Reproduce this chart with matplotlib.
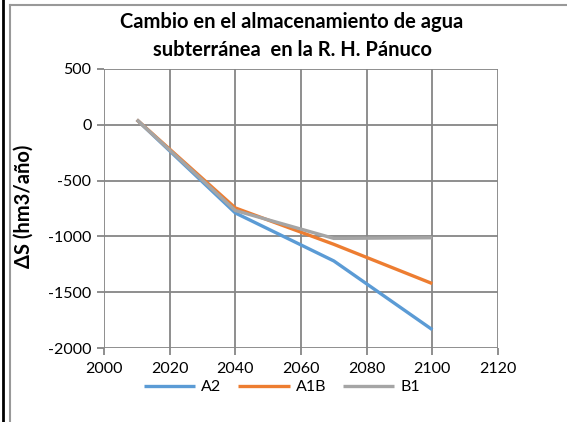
import matplotlib
matplotlib.use("Agg")
import matplotlib.pyplot as plt
from matplotlib.lines import Line2D

plt.rcParams['font.family'] = ['Lato', 'DejaVu Sans']
plt.rcParams['axes.unicode_minus'] = False

years = [2010, 2040, 2070, 2100]
a2 = [45, -790, -1220, -1836]
a1b = [45, -745, -1071, -1423]
b1 = [45, -768, -1018, -1012]

series = [("A2", a2, "#5B9BD5"), ("A1B", a1b, "#ED7D31"), ("B1", b1, "#A5A5A5")]

fig = plt.figure(figsize=[5.67, 4.22], dpi=100)
ax = fig.add_axes([104/567, 1-348/422, (498-104)/567, (348-69)/422])

for name, vals, col in series:
    ax.plot(years, vals, '-', color=col, linewidth=2.4, label=name, solid_capstyle='butt')

ax.set_xlim(2000, 2120)
ax.set_ylim(-2000, 500)
ax.set_xticks(range(2000, 2121, 20))
ax.set_yticks(range(-2000, 501, 500))
ax.grid(True, color='#868686', linewidth=1.3)
ax.set_axisbelow(True)
for s in ax.spines.values():
    s.set_visible(False)
ax.tick_params(axis='both', direction='out', length=5, width=1.3, color='#868686',
               labelsize=11.5, labelcolor='black')
ax.tick_params(axis='x', pad=5)
ax.tick_params(axis='y', pad=4)

fig.text(0.515, 1-22/422, "Cambio en el almacenamiento de agua", ha='center', va='center',
         fontsize=14.5, fontweight='bold')
fig.text(0.515, 1-50/422, "subterránea  en la R. H. Pánuco", ha='center', va='center',
         fontsize=14.5, fontweight='bold')
fig.text(24/567, 1-206/422, "ΔS (hm3/año)", rotation=90, ha='center', va='center',
         fontsize=14.5, fontweight='bold')

ax.legend(loc='center', bbox_to_anchor=(0.452, -0.14), ncol=3, frameon=False,
          fontsize=11.5, handlelength=3.2, columnspacing=1.05, handletextpad=0.4)

# frame decorations
fig.add_artist(Line2D([3/567, 3/567], [0, 1], color='black', linewidth=2))
fig.add_artist(Line2D([10/567, 10/567], [0, 1-5/422], color='#999999', linewidth=1.5))
fig.add_artist(Line2D([10/567, 1], [1-5/422, 1-5/422], color='#999999', linewidth=1.5))

fig.savefig("out.png", dpi=100)
